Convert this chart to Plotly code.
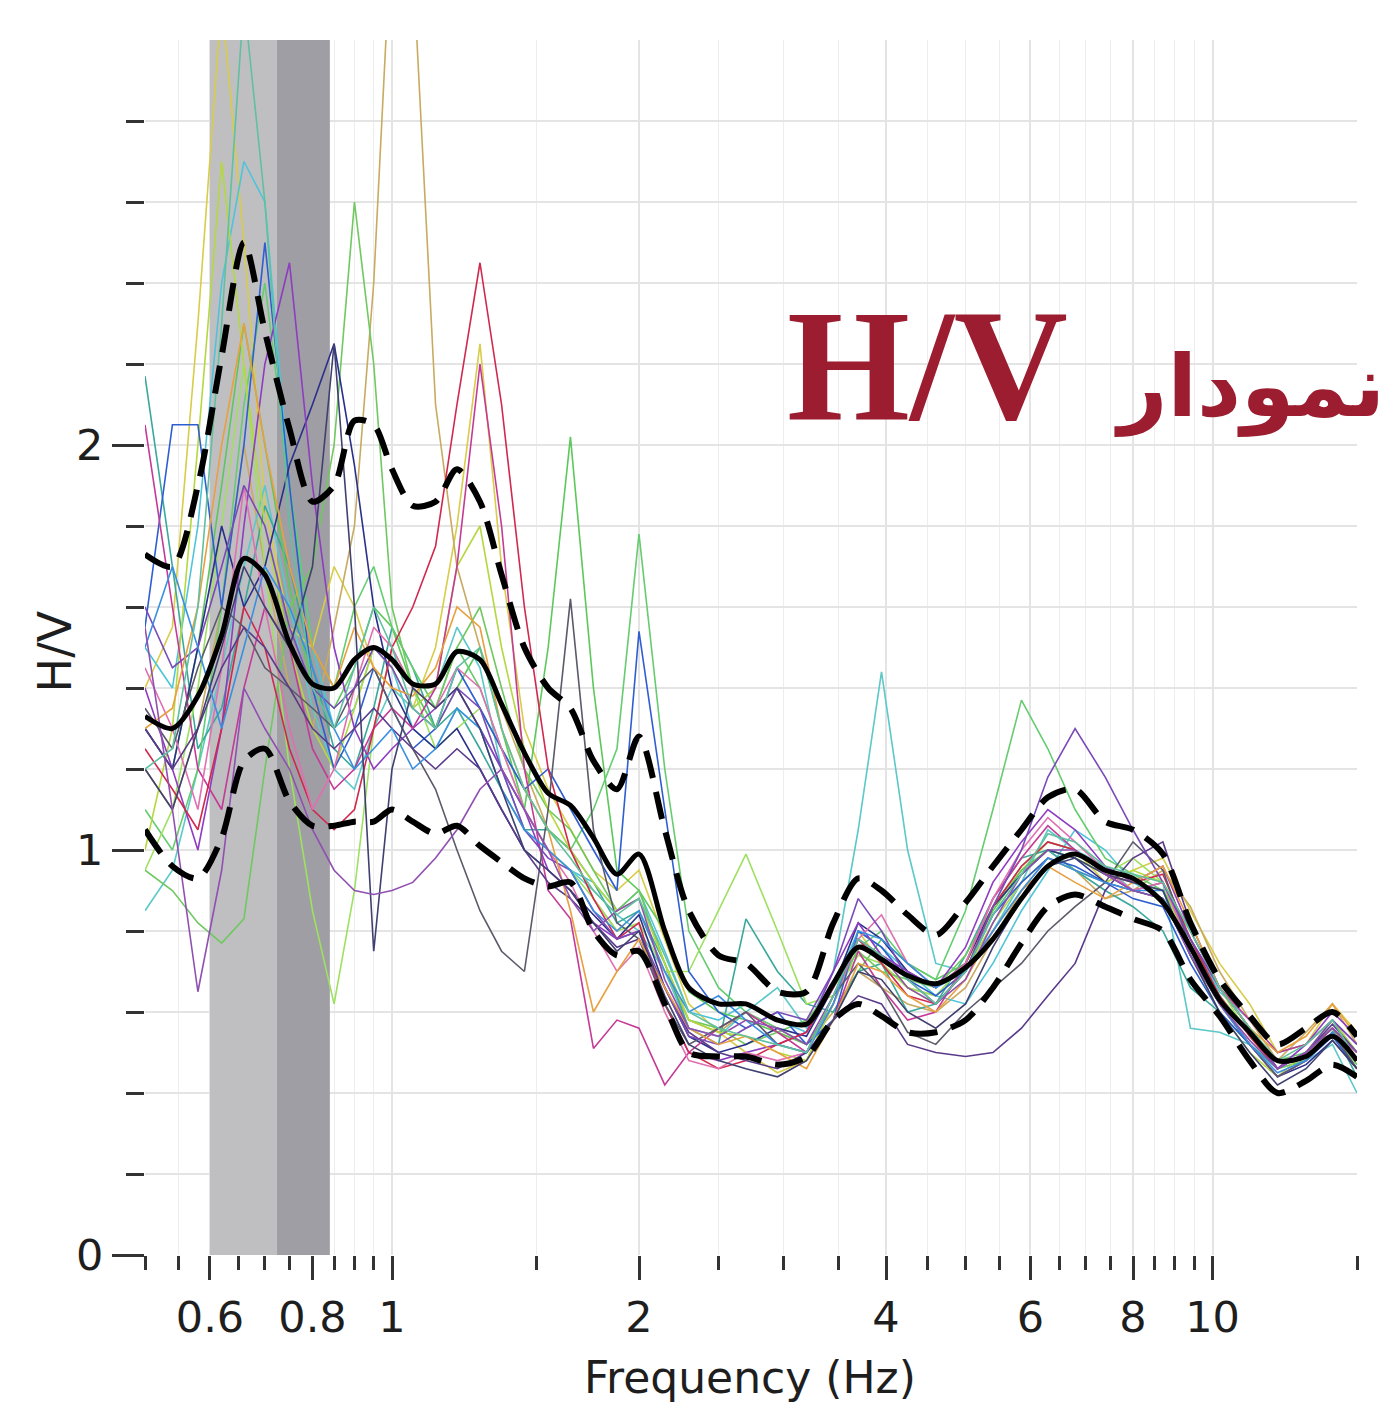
import plotly.graph_objects as go

# ---------------- data ----------------
freq = [0.50, 0.54, 0.58, 0.62, 0.66, 0.70, 0.75, 0.80, 0.85, 0.90, 0.95, 1.00,
        1.06, 1.13, 1.20, 1.28, 1.36, 1.45, 1.55, 1.65, 1.76, 1.88, 2.00, 2.15,
        2.30, 2.50, 2.70, 2.95, 3.20, 3.45, 3.70, 3.95, 4.25, 4.60, 5.00, 5.40,
        5.85, 6.30, 6.80, 7.40, 8.00, 8.70, 9.40, 10.2, 11.1, 12.0, 13.0, 14.0, 15.0]

mean_hv = [1.33, 1.30, 1.38, 1.53, 1.72, 1.68, 1.51, 1.41, 1.40, 1.47, 1.50, 1.47,
           1.41, 1.41, 1.49, 1.47, 1.36, 1.24, 1.14, 1.11, 1.03, 0.94, 0.99, 0.80,
           0.66, 0.62, 0.62, 0.58, 0.57, 0.67, 0.76, 0.73, 0.69, 0.67, 0.71, 0.78,
           0.88, 0.96, 0.99, 0.95, 0.93, 0.87, 0.76, 0.63, 0.55, 0.48, 0.49, 0.54, 0.48]

upper_hv = [1.73, 1.70, 1.90, 2.22, 2.50, 2.28, 2.04, 1.86, 1.90, 2.06, 2.05, 1.94,
            1.85, 1.86, 1.94, 1.86, 1.68, 1.50, 1.40, 1.35, 1.22, 1.15, 1.28, 1.05,
            0.85, 0.74, 0.72, 0.65, 0.65, 0.82, 0.93, 0.90, 0.84, 0.79, 0.87, 0.96,
            1.05, 1.13, 1.15, 1.07, 1.05, 0.99, 0.82, 0.68, 0.59, 0.52, 0.56, 0.60, 0.54]

lower_hv = [1.05, 0.96, 0.93, 1.03, 1.22, 1.25, 1.12, 1.06, 1.06, 1.07, 1.07, 1.10,
            1.07, 1.04, 1.06, 1.01, 0.97, 0.93, 0.91, 0.92, 0.80, 0.74, 0.75, 0.62,
            0.50, 0.49, 0.49, 0.47, 0.49, 0.58, 0.62, 0.59, 0.55, 0.55, 0.58, 0.66,
            0.77, 0.86, 0.89, 0.86, 0.83, 0.80, 0.68, 0.59, 0.48, 0.40, 0.43, 0.47, 0.44]

curve_01 = [1.40, 1.55, 2.30, 3.10, 2.50, 1.85, 1.55, 1.50, 1.70, 1.60, 1.45, 1.40,
            1.35, 1.50, 1.80, 2.25, 1.70, 1.30, 1.15, 1.05, 0.95, 0.90, 0.95, 0.78,
            0.62, 0.55, 0.50, 0.45, 0.48, 0.62, 0.80, 0.72, 0.66, 0.64, 0.70, 0.86,
            0.95, 1.02, 1.00, 0.92, 0.95, 0.98, 0.85, 0.72, 0.62, 0.50, 0.52, 0.62, 0.55]
curve_02 = [1.20, 1.10, 1.30, 1.60, 2.00, 1.70, 1.40, 1.30, 1.55, 1.80, 2.40, 3.30,
            3.20, 2.10, 1.70, 1.50, 1.35, 1.20, 1.05, 1.00, 0.88, 0.80, 0.85, 0.70,
            0.58, 0.55, 0.60, 0.55, 0.52, 0.60, 0.70, 0.66, 0.62, 0.60, 0.66, 0.78,
            0.90, 0.98, 0.95, 0.88, 0.90, 0.95, 0.86, 0.70, 0.58, 0.48, 0.55, 0.62, 0.52]
curve_03 = [1.50, 1.40, 1.80, 2.40, 2.70, 2.60, 1.90, 1.50, 1.30, 1.35, 1.50, 1.45,
            1.30, 1.25, 1.35, 1.30, 1.20, 1.10, 1.00, 0.95, 0.92, 0.85, 0.90, 0.75,
            0.60, 0.58, 0.62, 0.58, 0.55, 0.66, 0.80, 0.76, 0.70, 0.64, 0.62, 0.72,
            0.85, 0.95, 1.05, 1.00, 0.92, 0.88, 0.78, 0.65, 0.58, 0.50, 0.52, 0.58, 0.50]
curve_04 = [0.85, 0.95, 1.20, 1.45, 1.70, 1.90, 1.60, 1.35, 1.20, 1.15, 1.30, 1.40,
            1.35, 1.40, 1.55, 1.45, 1.20, 1.05, 1.00, 0.95, 0.90, 0.84, 0.80, 0.70,
            0.56, 0.54, 0.60, 0.66, 0.56, 0.70, 1.05, 1.44, 1.00, 0.72, 0.70, 0.80,
            0.92, 1.05, 1.00, 0.96, 0.90, 0.92, 0.56, 0.55, 0.52, 0.46, 0.48, 0.52, 0.40]
curve_05 = [2.17, 1.70, 1.25, 1.35, 1.60, 1.85, 1.70, 1.45, 1.25, 1.20, 1.35, 1.55,
            1.45, 1.30, 1.35, 1.25, 1.15, 1.05, 1.05, 1.00, 0.92, 0.82, 0.85, 0.72,
            0.56, 0.52, 0.83, 0.70, 0.62, 0.60, 0.70, 0.72, 0.60, 0.62, 0.74, 0.88,
            0.98, 1.00, 0.95, 0.90, 0.86, 0.80, 0.66, 0.60, 0.52, 0.46, 0.50, 0.56, 0.44]
curve_06 = [1.30, 1.20, 1.50, 1.90, 2.30, 2.00, 1.65, 1.40, 1.35, 1.45, 1.60, 1.55,
            1.40, 1.30, 1.40, 1.50, 1.30, 1.10, 1.50, 2.02, 1.40, 0.95, 0.90, 0.80,
            0.65, 0.60, 0.58, 0.55, 0.52, 0.58, 0.70, 0.78, 0.72, 0.68, 0.72, 0.85,
            0.95, 1.00, 0.98, 0.94, 0.92, 0.90, 0.78, 0.64, 0.55, 0.46, 0.50, 0.56, 0.48]
curve_07 = [1.10, 1.00, 1.20, 1.60, 2.10, 2.40, 1.90, 1.50, 1.40, 1.60, 1.70, 1.55,
            1.45, 1.35, 1.50, 1.40, 1.25, 1.15, 1.05, 1.00, 1.10, 1.25, 1.78, 1.20,
            0.80, 0.66, 0.60, 0.56, 0.52, 0.62, 0.76, 0.80, 0.72, 0.68, 0.85, 1.10,
            1.37, 1.25, 1.10, 0.98, 0.94, 0.90, 0.80, 0.66, 0.56, 0.48, 0.50, 0.56, 0.50]
curve_08 = [0.95, 1.10, 1.40, 1.80, 2.20, 1.70, 1.20, 0.85, 0.62, 0.90, 1.30, 1.50,
            1.40, 1.25, 1.30, 1.35, 1.25, 1.10, 1.00, 0.95, 0.88, 0.80, 0.82, 0.70,
            0.70, 0.85, 0.99, 0.80, 0.62, 0.64, 0.74, 0.72, 0.66, 0.64, 0.72, 0.84,
            0.94, 1.00, 0.98, 0.94, 0.98, 0.92, 0.80, 0.66, 0.54, 0.46, 0.50, 0.58, 0.50]
curve_09 = [0.95, 0.90, 0.82, 0.77, 0.83, 1.20, 1.60, 1.70, 2.00, 2.60, 2.20, 1.60,
            1.40, 1.35, 1.50, 1.60, 1.40, 1.20, 1.10, 1.05, 0.95, 0.85, 0.90, 0.72,
            0.58, 0.56, 0.52, 0.55, 0.58, 0.66, 0.75, 0.70, 0.68, 0.66, 0.74, 0.86,
            0.96, 1.02, 1.00, 0.94, 0.90, 0.88, 0.76, 0.64, 0.54, 0.46, 0.48, 0.55, 0.47]
curve_10 = [1.00, 1.30, 2.00, 2.70, 2.20, 1.80, 1.50, 1.30, 1.20, 1.35, 1.50, 1.45,
            1.35, 1.40, 1.70, 1.80, 1.50, 1.25, 1.10, 1.00, 0.92, 0.85, 0.88, 0.72,
            0.58, 0.55, 0.54, 0.50, 0.48, 0.62, 0.78, 0.74, 0.66, 0.62, 0.70, 0.82,
            0.92, 0.98, 0.95, 0.92, 0.95, 0.92, 0.74, 0.60, 0.50, 0.44, 0.50, 0.58, 0.50]
curve_11 = [1.55, 2.05, 2.05, 1.60, 2.00, 2.50, 1.90, 1.40, 1.20, 1.30, 1.45, 1.35,
            1.25, 1.30, 1.45, 1.35, 1.25, 1.15, 1.20, 1.10, 1.00, 0.90, 1.54, 1.10,
            0.70, 0.60, 0.56, 0.60, 0.52, 0.58, 0.80, 0.76, 0.68, 0.64, 0.70, 0.84,
            0.92, 0.98, 0.96, 0.92, 0.88, 0.86, 0.72, 0.60, 0.52, 0.44, 0.48, 0.54, 0.46]
curve_12 = [1.30, 1.20, 1.50, 1.80, 1.60, 1.70, 1.95, 2.10, 2.25, 1.95, 1.60, 1.40,
            1.30, 1.25, 1.30, 1.20, 1.10, 1.00, 0.95, 0.90, 0.84, 0.78, 0.84, 0.66,
            0.54, 0.50, 0.52, 0.56, 0.54, 0.66, 0.82, 0.78, 0.70, 0.66, 0.72, 0.86,
            0.94, 1.00, 0.98, 0.92, 0.90, 0.88, 0.74, 0.62, 0.52, 0.44, 0.47, 0.53, 0.46]
curve_13 = [1.40, 1.20, 1.00, 1.30, 1.80, 2.20, 2.45, 1.90, 1.50, 1.30, 1.20, 1.25,
            1.30, 1.35, 1.40, 1.30, 1.20, 1.10, 0.95, 0.90, 0.82, 0.78, 0.80, 0.62,
            0.50, 0.48, 0.50, 0.52, 0.55, 0.70, 0.82, 0.74, 0.70, 0.66, 0.76, 0.92,
            1.02, 1.10, 1.05, 0.96, 0.92, 0.96, 0.80, 0.66, 0.56, 0.46, 0.52, 0.60, 0.54]
curve_14 = [2.05, 1.60, 1.20, 1.10, 1.40, 1.60, 1.50, 1.25, 1.15, 1.20, 1.30, 1.35,
            1.30, 1.40, 1.70, 2.20, 1.80, 1.20, 0.90, 0.83, 0.51, 0.58, 0.56, 0.42,
            0.50, 0.56, 0.60, 0.55, 0.50, 0.58, 0.75, 0.66, 0.58, 0.60, 0.72, 0.88,
            0.98, 1.06, 1.00, 0.94, 0.90, 0.92, 0.78, 0.66, 0.58, 0.50, 0.52, 0.58, 0.52]
curve_15 = [1.25, 1.15, 1.05, 1.30, 1.60, 1.50, 1.25, 1.10, 1.05, 1.10, 1.30, 1.50,
            1.60, 1.75, 2.10, 2.45, 2.10, 1.60, 1.20, 1.00, 0.88, 0.78, 0.82, 0.62,
            0.50, 0.46, 0.48, 0.52, 0.55, 0.66, 0.78, 0.72, 0.64, 0.62, 0.70, 0.86,
            0.96, 1.02, 1.00, 0.94, 0.92, 0.94, 0.78, 0.64, 0.54, 0.46, 0.50, 0.56, 0.50]
curve_16 = [1.45, 1.30, 1.10, 1.45, 1.90, 1.60, 1.30, 1.10, 1.20, 1.40, 1.55, 1.50,
            1.40, 1.35, 1.45, 1.40, 1.25, 1.10, 1.00, 0.92, 0.80, 0.70, 0.76, 0.60,
            0.48, 0.46, 0.50, 0.48, 0.50, 0.62, 0.78, 0.84, 0.72, 0.66, 0.72, 0.88,
            1.00, 1.08, 1.02, 0.95, 0.90, 0.92, 0.76, 0.62, 0.52, 0.44, 0.48, 0.55, 0.50]
curve_17 = [1.35, 1.25, 1.45, 1.60, 1.55, 1.45, 1.40, 1.35, 1.30, 1.40, 1.45, 1.35,
            1.25, 1.15, 1.00, 0.85, 0.75, 0.70, 1.10, 1.62, 1.05, 0.82, 0.78, 0.62,
            0.52, 0.56, 0.60, 0.52, 0.50, 0.64, 0.72, 0.66, 0.55, 0.52, 0.60, 0.66,
            0.72, 0.80, 0.86, 0.92, 1.02, 0.95, 0.76, 0.62, 0.52, 0.44, 0.48, 0.55, 0.46]
curve_18 = [1.30, 1.20, 1.30, 1.45, 1.55, 1.50, 1.40, 1.30, 1.25, 1.30, 1.35, 1.30,
            1.25, 1.20, 1.25, 1.20, 1.10, 1.00, 0.92, 0.88, 0.82, 0.76, 0.78, 0.66,
            0.55, 0.50, 0.48, 0.46, 0.50, 0.58, 0.64, 0.62, 0.52, 0.50, 0.49, 0.50,
            0.56, 0.64, 0.72, 0.90, 0.98, 1.02, 0.82, 0.66, 0.56, 0.46, 0.50, 0.57, 0.50]
curve_19 = [1.60, 1.45, 1.50, 1.70, 1.90, 1.80, 1.55, 1.40, 1.35, 1.40, 1.50, 1.45,
            1.35, 1.30, 1.40, 1.35, 1.20, 1.05, 0.98, 0.95, 0.85, 0.78, 0.80, 0.66,
            0.54, 0.52, 0.56, 0.60, 0.58, 0.70, 0.88, 0.80, 0.68, 0.62, 0.70, 0.86,
            1.00, 1.18, 1.30, 1.18, 1.05, 0.92, 0.78, 0.66, 0.56, 0.46, 0.50, 0.58, 0.52]
curve_20 = [1.30, 1.35, 1.60, 2.00, 2.30, 2.00, 1.70, 1.50, 1.40, 1.55, 1.45, 1.40,
            1.38, 1.45, 1.60, 1.55, 1.30, 1.15, 1.05, 0.85, 0.60, 0.70, 0.78, 0.66,
            0.56, 0.52, 0.54, 0.50, 0.46, 0.58, 0.72, 0.70, 0.64, 0.60, 0.68, 0.80,
            0.90, 0.96, 0.92, 0.88, 0.92, 0.96, 0.82, 0.66, 0.56, 0.50, 0.54, 0.62, 0.54]
curve_21 = [1.50, 1.70, 1.50, 1.30, 1.50, 1.70, 1.60, 1.45, 1.30, 1.20, 1.25, 1.30,
            1.20, 1.25, 1.35, 1.30, 1.15, 1.05, 1.00, 0.95, 0.85, 0.80, 0.85, 0.70,
            0.60, 0.64, 0.58, 0.52, 0.50, 0.62, 0.80, 0.78, 0.72, 0.66, 0.70, 0.80,
            0.90, 0.98, 0.95, 0.92, 0.90, 0.90, 0.74, 0.62, 0.52, 0.45, 0.48, 0.55, 0.48]
curve_22 = [1.20, 1.10, 1.30, 1.50, 1.70, 1.60, 1.50, 1.70, 2.25, 1.60, 0.75, 1.20,
            1.40, 1.35, 1.40, 1.30, 1.15, 1.00, 0.95, 0.90, 0.82, 0.75, 0.80, 0.64,
            0.52, 0.48, 0.46, 0.44, 0.48, 0.58, 0.70, 0.68, 0.60, 0.56, 0.62, 0.76,
            0.88, 0.96, 0.98, 0.94, 0.92, 0.90, 0.74, 0.60, 0.50, 0.42, 0.46, 0.53, 0.46]
curve_23 = [1.55, 1.10, 0.65, 0.95, 1.40, 1.30, 1.20, 1.05, 0.95, 0.90, 0.89, 0.90,
            0.92, 0.98, 1.05, 1.15, 1.20, 1.10, 1.00, 0.88, 0.80, 0.85, 0.88, 0.68,
            0.56, 0.54, 0.58, 0.56, 0.52, 0.64, 0.78, 0.74, 0.66, 0.62, 0.68, 0.82,
            0.94, 1.00, 1.00, 0.94, 0.90, 0.88, 0.74, 0.62, 0.53, 0.46, 0.50, 0.56, 0.50]
curve_24 = [1.20, 1.25, 1.60, 2.30, 3.10, 2.60, 1.80, 1.40, 1.30, 1.45, 1.60, 1.50,
            1.35, 1.30, 1.45, 1.50, 1.30, 1.15, 1.05, 0.98, 0.90, 0.84, 0.88, 0.74,
            0.60, 0.56, 0.54, 0.52, 0.50, 0.64, 0.78, 0.74, 0.68, 0.62, 0.70, 0.84,
            0.94, 1.04, 1.02, 0.96, 0.94, 0.92, 0.80, 0.66, 0.56, 0.48, 0.52, 0.58, 0.48]

window_curves = [curve_01, curve_02, curve_03, curve_04, curve_05, curve_06,
                 curve_07, curve_08, curve_09, curve_10, curve_11, curve_12,
                 curve_13, curve_14, curve_15, curve_16, curve_17, curve_18,
                 curve_19, curve_20, curve_21, curve_22, curve_23, curve_24]

band_light = [0.60, 0.724]
band_dark = [0.724, 0.84]
y_top = 3.0

x_tick_vals = [0.6, 0.8, 1, 2, 4, 6, 8, 10]
x_tick_text = ["0.6", "0.8", "1", "2", "4", "6", "8", "10"]
x_minor_vals = [0.5, 0.55, 0.65, 0.7, 0.75, 0.85, 0.9, 0.95, 1.5, 2.5, 3, 3.5,
                4.5, 5, 5.5, 6.5, 7, 7.5, 8.5, 9, 9.5, 15]
y_tick_vals = [0, 1, 2]
y_minor_vals = [0.2, 0.4, 0.6, 0.8, 1.2, 1.4, 1.6, 1.8, 2.2, 2.4, 2.6, 2.8]

# ---------------- styles ----------------
line_colors = ["#d8cc48", "#c8aa60", "#4ec4d8", "#5cc8c8", "#3aa89a", "#5cc85a",
               "#66cc70", "#9ee060", "#70c860", "#b4d840", "#2e5ed0", "#2a2f8a",
               "#8e3cc0", "#c43a96", "#d0284e", "#e070b0", "#5a5a6a", "#5a3a8a",
               "#7a4ab8", "#e8a040", "#3a8fe0", "#404070", "#9050b0", "#60c0a0"]

fig = go.Figure()

# peak-frequency bands (drawn first, as filled traces, so they sit above the grid)
for (b0, b1), col in ((band_light, "#bfbfc2"), (band_dark, "#9e9ea4")):
    fig.add_trace(go.Scatter(x=[b0, b0, b1, b1, b0], y=[0, y_top, y_top, 0, 0],
                             mode="lines", fill="toself", fillcolor=col,
                             line=dict(width=0, color=col),
                             showlegend=False, hoverinfo="skip"))

for vals, col in zip(window_curves, line_colors):
    fig.add_trace(go.Scatter(x=freq, y=vals, mode="lines",
                             line=dict(color=col, width=1.6),
                             showlegend=False, hoverinfo="skip"))

for vals in (upper_hv, lower_hv):
    fig.add_trace(go.Scatter(x=freq, y=vals, mode="lines",
                             line=dict(color="black", width=6, dash="28px,14px",
                                       shape="spline", smoothing=0.8),
                             showlegend=False))
fig.add_trace(go.Scatter(x=freq, y=mean_hv, mode="lines",
                         line=dict(color="black", width=5, shape="spline", smoothing=0.8),
                         showlegend=False))

font_main = dict(family="DejaVu Sans", size=43, color="#1e1e1e")

fig.update_xaxes(type="log", range=[-0.30103, 1.17609], automargin=False,
                 tickmode="array", tickvals=x_tick_vals, ticktext=x_tick_text,
                 ticks="outside", ticklen=24, tickwidth=2.5, tickcolor="#333",
                 showgrid=True, gridcolor="#e4e4e4", gridwidth=1.5,
                 minor=dict(tickmode="array", tickvals=x_minor_vals, ticks="outside",
                            ticklen=14, tickwidth=2.5, tickcolor="#333",
                            showgrid=True, gridcolor="#ededed", gridwidth=1.2),
                 showline=False, zeroline=False, tickfont=font_main)

fig.update_yaxes(range=[0, y_top], tickmode="array", tickvals=y_tick_vals, automargin=False,
                 ticks="outside", ticklen=32, tickwidth=2.5, tickcolor="#333",
                 showgrid=True, gridcolor="#e4e4e4", gridwidth=1.5,
                 minor=dict(tickmode="array", tickvals=y_minor_vals, ticks="outside",
                            ticklen=18, tickwidth=2.5, tickcolor="#333",
                            showgrid=True, gridcolor="#e4e4e4", gridwidth=1.5),
                 showline=False, zeroline=False, tickfont=font_main)

# axis titles
fig.add_annotation(xref="paper", yref="paper", x=0.499, y=-0.101, text="Frequency (Hz)",
                   showarrow=False, xanchor="center", yanchor="middle",
                   font=dict(family="DejaVu Sans", size=44, color="#1e1e1e"))
fig.add_annotation(xref="paper", yref="paper", x=-0.074, y=0.497, text="H/V",
                   textangle=-90, showarrow=False, xanchor="center", yanchor="middle",
                   font=dict(family="DejaVu Sans", size=46, color="#1e1e1e"))

# chart heading
fig.add_annotation(xref="paper", yref="paper", x=0.646, y=0.732, text="<b>H/V</b>",
                   showarrow=False, xanchor="center", yanchor="middle",
                   font=dict(family="Liberation Serif", size=158, color="#9c1c30"))
fig.add_annotation(xref="paper", yref="paper", x=0.911, y=0.715, text="<b>نمودار</b>",
                   showarrow=False, xanchor="center", yanchor="middle",
                   font=dict(family="DejaVu Sans", size=86, color="#9c1c30"))

# the page body adds an 8 px offset, so margins are shifted to keep the plot area in place
fig.update_layout(width=1396, height=1413, plot_bgcolor="white", paper_bgcolor="white",
                  margin=dict(l=137, r=47, t=32, b=166), showlegend=False)

fig.write_html("out.html")
